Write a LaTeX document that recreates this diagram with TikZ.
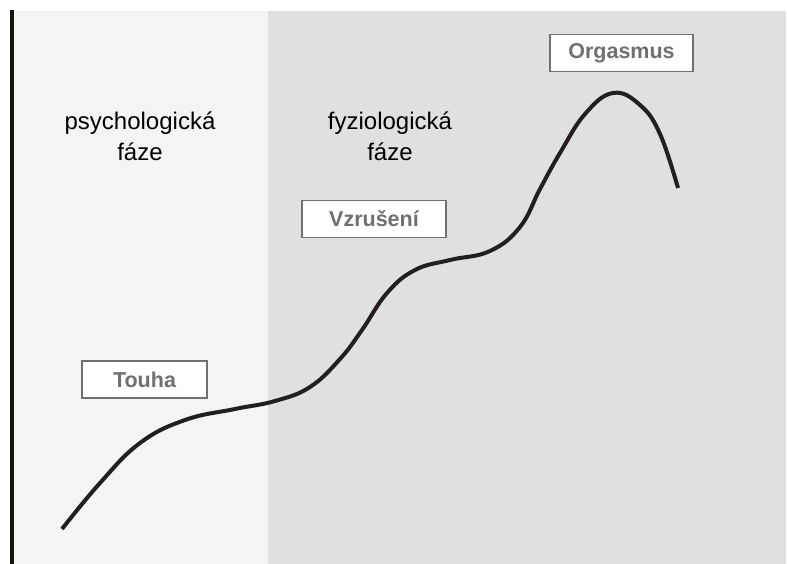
\documentclass[tikz,border=0pt]{standalone}
\usepackage{fontspec}
\setmainfont{Liberation Sans}
\definecolor{leftbg}{HTML}{F4F4F4}
\definecolor{rightbg}{HTML}{E1E0E1}
\definecolor{boxgray}{HTML}{707070}
\definecolor{curvecol}{HTML}{231F20}
\definecolor{axiscol}{HTML}{141410}
\begin{document}
\begin{tikzpicture}[x=1pt,y=-1pt,
  phasebox/.style={draw=boxgray,line width=1.5pt,fill=white,minimum height=37pt,
    font=\fontsize{21.5}{24}\selectfont\bfseries,text=boxgray,inner sep=0pt},
  phaselabel/.style={align=center,font=\fontsize{24}{31}\selectfont,text=black}]
\useasboundingbox (0,0) rectangle (787,564);
\fill[white] (0,0) rectangle (787,564);
\fill[leftbg] (13,11) rectangle (268,564);
\fill[rightbg] (268,11) rectangle (786,564);
\draw[line width=4pt,axiscol] (11.5,10) -- (11.5,564);
\node[phaselabel] (psy) at (140,136) {psychologická\\fáze};
\node[phaselabel] (fyz) at (390,136) {fyziologická\\fáze};
\draw[curvecol,line width=4pt] plot[smooth,tension=0.7] coordinates {
(62,529) (100,483) (140,443) (185,420) (235,409) (275,401) (310,387) (340,359) (362,330) (387,293) (415,270) (450,260) (490,251) (520,227) (540,189) (560,153) (585,114) (613,93) (640,105) (660,134) (678,188)};
\node[phasebox,minimum width=125pt] (touha) at (144.5,379.5) {Touha};
\node[phasebox,minimum width=144pt] (vzr) at (374,219) {Vzrušení};
\node[phasebox,minimum width=143pt] (org) at (621.5,53) {Orgasmus};
\end{tikzpicture}
\end{document}
